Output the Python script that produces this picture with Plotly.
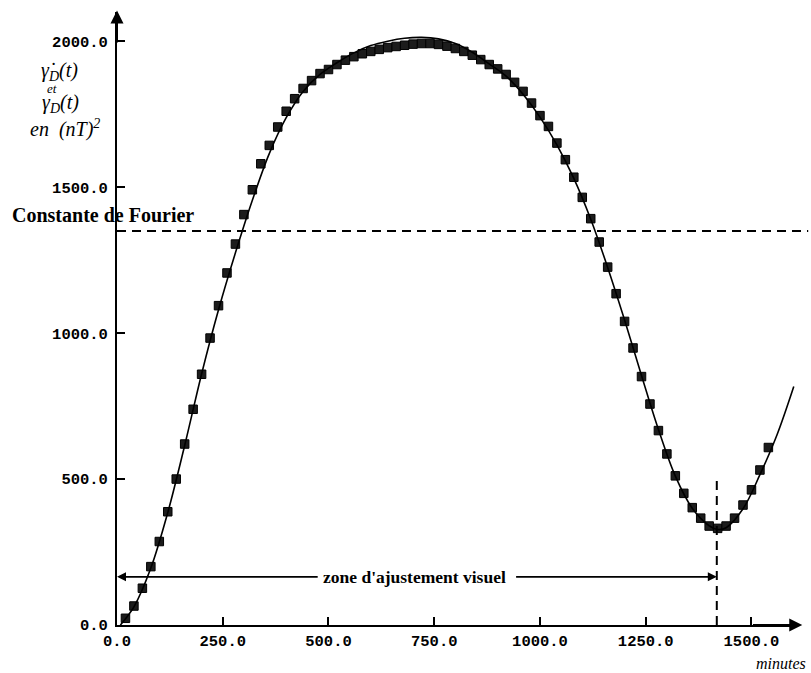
import plotly.graph_objects as go

# points mesurés (carrés) : gamma*_D(t)
t_points = [20, 40, 60, 80, 100, 120, 140, 160, 180, 200,
            220, 240, 260, 280, 300, 320, 340, 360, 380, 400,
            420, 440, 460, 480, 500, 520, 540, 560, 580, 600,
            620, 640, 660, 680, 700, 720, 740, 760, 780, 800,
            820, 840, 860, 880, 900, 920, 940, 960, 980, 1000,
            1020, 1040, 1060, 1080, 1100, 1120, 1140, 1160, 1180, 1200,
            1220, 1240, 1260, 1280, 1300, 1320, 1340, 1360, 1380, 1400,
            1420, 1440, 1460, 1480, 1500, 1520, 1540]
gamma_star = [23, 65, 126, 200, 286, 388, 500, 620, 739, 859,
              983, 1094, 1206, 1305, 1406, 1491, 1580, 1643, 1706, 1760,
              1803, 1838, 1865, 1889, 1903, 1920, 1935, 1947, 1957, 1965,
              1972, 1978, 1982, 1986, 1990, 1992, 1992, 1989, 1983, 1975,
              1965, 1952, 1937, 1920, 1905, 1886, 1859, 1828, 1788, 1745,
              1708, 1651, 1594, 1534, 1465, 1392, 1312, 1226, 1135, 1040,
              949, 851, 757, 666, 586, 511, 451, 402, 366, 339,
              331, 339, 366, 411, 463, 531, 608]

# courbe ajustée (trait plein) : gamma_D(t)
t_curve = [8, 40, 80, 120, 160, 200, 240, 280, 320, 360,
           400, 440, 480, 520, 560, 600, 640, 680, 720, 760,
           800, 840, 880, 920, 960, 1000, 1040, 1080, 1120, 1160,
           1200, 1240, 1280, 1320, 1360, 1400, 1420, 1440, 1480, 1520,
           1560, 1600]
gamma_fit = [0, 62, 195, 385, 615, 860, 1080, 1275, 1455, 1615,
             1738, 1828, 1886, 1926, 1960, 1985, 2000, 2010, 2013, 2008,
             1992, 1962, 1922, 1880, 1818, 1740, 1645, 1530, 1390, 1225,
             1045, 855, 670, 510, 400, 340, 327, 333, 398, 515,
             650, 817]

fourier_const = 1350
zone_y = 165
zone_end = 1418
zone_top = 508

x_ticks = [0, 250, 500, 750, 1000, 1250, 1500]
y_ticks = [0, 500, 1000, 1500, 2000]

serif = "Liberation Serif"
mono = "Liberation Mono"

fig = go.Figure()

fig.add_trace(go.Scatter(
    x=t_points, y=gamma_star, mode="markers",
    marker=dict(symbol="square", size=8.5, color="#1c1c1c",
                line=dict(color="black", width=1)),
))
fig.add_trace(go.Scatter(
    x=t_curve, y=gamma_fit, mode="lines",
    line=dict(color="black", width=1.6, shape="spline", smoothing=1.0),
))

# constante de Fourier
fig.add_shape(type="line", xref="paper", yref="y", x0=0, x1=1.015,
              y0=fourier_const, y1=fourier_const,
              line=dict(color="black", width=2, dash="9px,6px"))
# trait vertical pointillé
fig.add_shape(type="line", xref="x", yref="y", x0=zone_end, x1=zone_end,
              y0=0, y1=zone_top,
              line=dict(color="black", width=2, dash="9px,6px"))

ann = []
# flèches des axes
ann.append(dict(x=0, y=2105, ax=0, ay=1990, xref="x", yref="y",
                axref="x", ayref="y", showarrow=True, arrowhead=2,
                arrowsize=1.3, arrowwidth=2, arrowcolor="black", text=""))
ann.append(dict(x=1620, y=0, ax=1500, ay=0, xref="x", yref="y",
                axref="x", ayref="y", showarrow=True, arrowhead=2,
                arrowsize=1.3, arrowwidth=2, arrowcolor="black", text=""))
# zone d'ajustement visuel
ann.append(dict(x=0, y=zone_y, ax=478, ay=zone_y, xref="x", yref="y",
                axref="x", ayref="y", showarrow=True, arrowhead=2,
                arrowsize=1, arrowwidth=1.8, arrowcolor="black", text=""))
ann.append(dict(x=zone_end, y=zone_y, ax=940, ay=zone_y, xref="x", yref="y",
                axref="x", ayref="y", showarrow=True, arrowhead=2,
                arrowsize=1, arrowwidth=1.8, arrowcolor="black", text=""))
ann.append(dict(x=703, y=zone_y, xref="x", yref="y", showarrow=False,
                text="<b>zone d'ajustement visuel</b>",
                font=dict(family=serif, size=17.5, color="black")))
# textes
ann.append(dict(x=0, xshift=-107, y=1405, xref="paper", yref="y",
                xanchor="left", showarrow=False,
                text="<b>Constante de Fourier</b>",
                font=dict(family=serif, size=20, color="black")))
ylab = [("<i>\u03b3\u0307<sub>D</sub>(t)</i>", 1896, -58, 20),
        ("<i>et</i>", 1838, -65, 13),
        ("<i>\u03b3<sub>D</sub>(t)</i>", 1785, -57, 20),
        ("<i>en  (nT)<sup>2</sup></i>", 1700, -52, 20)]
for txt, yv, dx, sz in ylab:
    ann.append(dict(x=0, xshift=dx, y=yv, xref="paper", yref="y",
                    xanchor="center", showarrow=False, text=txt,
                    font=dict(family=serif, size=sz, color="black")))
ann.append(dict(x=1, xshift=10, y=0, yshift=-38, xref="paper", yref="y",
                xanchor="right", showarrow=False, text="<i>minutes</i>",
                font=dict(family=serif, size=16, color="black")))

fig.update_layout(
    width=811, height=673, autosize=False,
    margin=dict(l=117, r=13, t=12, b=48),
    plot_bgcolor="white", paper_bgcolor="white",
    showlegend=False, annotations=ann,
)
fig.update_xaxes(range=[0, 1610], tickvals=x_ticks, tickformat=".1f",
                 showgrid=False, zeroline=False, showline=True,
                 linecolor="black", linewidth=2, ticks="inside",
                 ticklen=8, tickwidth=2, tickcolor="black",
                 tickfont=dict(family=mono, size=15.5, color="black", weight="bold"))
fig.update_yaxes(range=[0, 2100], tickvals=y_ticks, tickformat=".1f",
                 showgrid=False, zeroline=False, showline=True,
                 linecolor="black", linewidth=2, ticks="inside",
                 ticklen=8, tickwidth=2, tickcolor="black",
                 ticklabelstandoff=4,
                 tickfont=dict(family=mono, size=15.5, color="black", weight="bold"))

fig.write_html("out.html", config={"displayModeBar": False},
               post_script="document.body.style.margin='0';")
